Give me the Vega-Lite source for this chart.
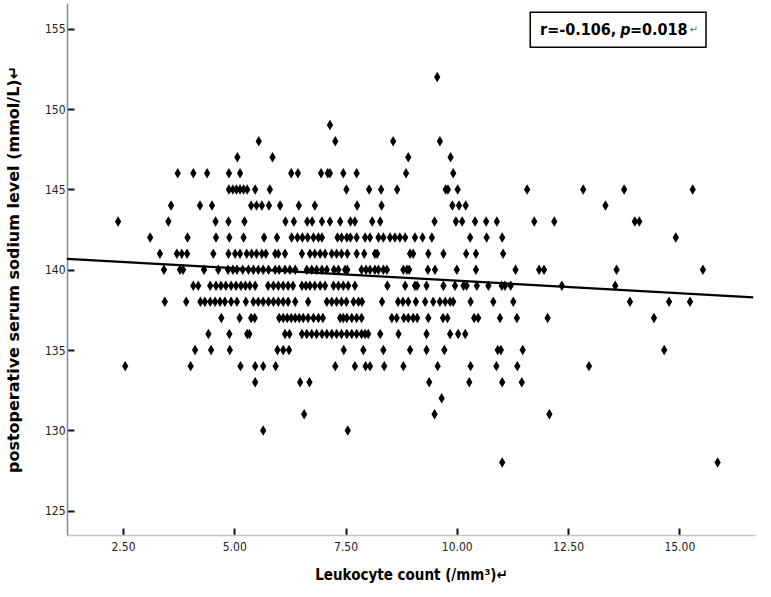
{
  "$schema": "https://vega.github.io/schema/vega-lite/v6.json",
  "width": 688,
  "height": 532,
  "autosize": {"type": "none"},
  "padding": {"left": 67, "top": 3, "right": 16, "bottom": 62},
  "background": "white",
  "config": {
    "view": {"stroke": null},
    "axis": {
      "grid": false,
      "domainColor": "#8a8a8a",
      "domainWidth": 1.5,
      "tickColor": "#111",
      "tickWidth": 2,
      "tickSize": -7,
      "labelPadding": 9,
      "labelFont": "Liberation Sans Narrow, Arial Narrow, DejaVu Sans Condensed, sans-serif",
      "labelFontSize": 12,
      "labelColor": "#222",
      "titleFontWeight": "bold",
      "titleColor": "#000"
    }
  },
  "datasets": {
    "pts": [
      {"x":9.56,"y":152},{"x":7.15,"y":149},
      {"x":5.55,"y":148},{"x":7.27,"y":148},{"x":8.57,"y":148},{"x":9.62,"y":148},
      {"x":5.07,"y":147},{"x":5.86,"y":147},{"x":8.91,"y":147},{"x":9.86,"y":147},
      {"x":3.73,"y":146},{"x":4.08,"y":146},{"x":4.39,"y":146},{"x":4.88,"y":146},{"x":5.13,"y":146},{"x":6.28,"y":146},{"x":6.43,"y":146},{"x":6.95,"y":146},{"x":7.10,"y":146},{"x":7.15,"y":146},{"x":7.45,"y":146},{"x":7.75,"y":146},{"x":8.86,"y":146},{"x":9.92,"y":146},
      {"x":4.88,"y":145},{"x":4.97,"y":145},{"x":5.05,"y":145},{"x":5.13,"y":145},{"x":5.21,"y":145},{"x":5.29,"y":145},{"x":5.47,"y":145},{"x":5.80,"y":145},{"x":7.52,"y":145},{"x":8.03,"y":145},{"x":8.30,"y":145},{"x":8.66,"y":145},{"x":9.75,"y":145},{"x":9.80,"y":145},{"x":10.02,"y":145},{"x":11.58,"y":145},{"x":12.84,"y":145},{"x":13.76,"y":145},{"x":15.30,"y":145},
      {"x":3.58,"y":144},{"x":4.23,"y":144},{"x":4.50,"y":144},{"x":5.38,"y":144},{"x":5.50,"y":144},{"x":5.62,"y":144},{"x":5.78,"y":144},{"x":6.03,"y":144},{"x":6.45,"y":144},{"x":6.81,"y":144},{"x":7.76,"y":144},{"x":8.31,"y":144},{"x":9.90,"y":144},{"x":10.05,"y":144},{"x":10.20,"y":144},{"x":13.34,"y":144},
      {"x":2.39,"y":143},{"x":3.52,"y":143},{"x":4.58,"y":143},{"x":4.87,"y":143},{"x":5.23,"y":143},{"x":6.15,"y":143},{"x":6.34,"y":143},{"x":6.64,"y":143},{"x":6.75,"y":143},{"x":6.97,"y":143},{"x":7.15,"y":143},{"x":7.38,"y":143},{"x":7.61,"y":143},{"x":7.71,"y":143},{"x":8.10,"y":143},{"x":8.28,"y":143},{"x":9.50,"y":143},{"x":9.98,"y":143},{"x":10.12,"y":143},{"x":10.41,"y":143},{"x":10.66,"y":143},{"x":10.90,"y":143},{"x":11.74,"y":143},{"x":12.19,"y":143},{"x":14.00,"y":143},{"x":14.10,"y":143},
      {"x":3.11,"y":142},{"x":3.95,"y":142},{"x":4.59,"y":142},{"x":4.89,"y":142},{"x":5.21,"y":142},{"x":5.67,"y":142},{"x":5.96,"y":142},{"x":6.29,"y":142},{"x":6.42,"y":142},{"x":6.53,"y":142},{"x":6.65,"y":142},{"x":6.78,"y":142},{"x":6.89,"y":142},{"x":6.97,"y":142},{"x":7.32,"y":142},{"x":7.41,"y":142},{"x":7.53,"y":142},{"x":7.61,"y":142},{"x":7.75,"y":142},{"x":7.94,"y":142},{"x":8.05,"y":142},{"x":8.24,"y":142},{"x":8.35,"y":142},{"x":8.50,"y":142},{"x":8.61,"y":142},{"x":8.72,"y":142},{"x":8.84,"y":142},{"x":9.06,"y":142},{"x":9.23,"y":142},{"x":9.44,"y":142},{"x":10.30,"y":142},{"x":10.67,"y":142},{"x":11.02,"y":142},{"x":14.92,"y":142},
      {"x":3.33,"y":141},{"x":3.71,"y":141},{"x":3.82,"y":141},{"x":3.94,"y":141},{"x":4.53,"y":141},{"x":4.87,"y":141},{"x":5.02,"y":141},{"x":5.13,"y":141},{"x":5.28,"y":141},{"x":5.39,"y":141},{"x":5.50,"y":141},{"x":5.62,"y":141},{"x":5.71,"y":141},{"x":5.92,"y":141},{"x":5.99,"y":141},{"x":6.14,"y":141},{"x":6.52,"y":141},{"x":6.70,"y":141},{"x":6.81,"y":141},{"x":6.93,"y":141},{"x":7.04,"y":141},{"x":7.19,"y":141},{"x":7.30,"y":141},{"x":7.41,"y":141},{"x":7.54,"y":141},{"x":7.75,"y":141},{"x":7.92,"y":141},{"x":8.16,"y":141},{"x":8.21,"y":141},{"x":8.95,"y":141},{"x":9.02,"y":141},{"x":9.36,"y":141},{"x":9.70,"y":141},{"x":10.21,"y":141},{"x":10.43,"y":141},{"x":11.04,"y":141},
      {"x":3.42,"y":140},{"x":3.78,"y":140},{"x":3.85,"y":140},{"x":4.32,"y":140},{"x":4.64,"y":140},{"x":4.86,"y":140},{"x":4.97,"y":140},{"x":5.06,"y":140},{"x":5.19,"y":140},{"x":5.32,"y":140},{"x":5.43,"y":140},{"x":5.54,"y":140},{"x":5.65,"y":140},{"x":5.77,"y":140},{"x":5.92,"y":140},{"x":6.01,"y":140},{"x":6.14,"y":140},{"x":6.25,"y":140},{"x":6.37,"y":140},{"x":6.63,"y":140},{"x":6.74,"y":140},{"x":6.85,"y":140},{"x":6.97,"y":140},{"x":7.08,"y":140},{"x":7.24,"y":140},{"x":7.34,"y":140},{"x":7.49,"y":140},{"x":7.54,"y":140},{"x":7.86,"y":140},{"x":7.96,"y":140},{"x":8.05,"y":140},{"x":8.16,"y":140},{"x":8.24,"y":140},{"x":8.35,"y":140},{"x":8.43,"y":140},{"x":8.80,"y":140},{"x":8.88,"y":140},{"x":8.93,"y":140},{"x":9.35,"y":140},{"x":9.51,"y":140},{"x":10.00,"y":140},{"x":10.43,"y":140},{"x":11.32,"y":140},{"x":11.85,"y":140},{"x":11.96,"y":140},{"x":13.59,"y":140},{"x":15.53,"y":140},
      {"x":4.08,"y":139},{"x":4.19,"y":139},{"x":4.46,"y":139},{"x":4.59,"y":139},{"x":4.70,"y":139},{"x":4.81,"y":139},{"x":4.93,"y":139},{"x":5.04,"y":139},{"x":5.15,"y":139},{"x":5.25,"y":139},{"x":5.35,"y":139},{"x":5.47,"y":139},{"x":5.76,"y":139},{"x":5.88,"y":139},{"x":5.99,"y":139},{"x":6.10,"y":139},{"x":6.21,"y":139},{"x":6.32,"y":139},{"x":6.52,"y":139},{"x":6.61,"y":139},{"x":6.70,"y":139},{"x":6.81,"y":139},{"x":6.93,"y":139},{"x":7.04,"y":139},{"x":7.23,"y":139},{"x":7.34,"y":139},{"x":7.45,"y":139},{"x":7.56,"y":139},{"x":7.71,"y":139},{"x":8.44,"y":139},{"x":8.84,"y":139},{"x":9.06,"y":139},{"x":9.11,"y":139},{"x":9.32,"y":139},{"x":9.70,"y":139},{"x":9.96,"y":139},{"x":10.15,"y":139},{"x":10.22,"y":139},{"x":10.45,"y":139},{"x":10.71,"y":139},{"x":11.01,"y":139},{"x":11.08,"y":139},{"x":11.21,"y":139},{"x":12.36,"y":139},{"x":13.56,"y":139},
      {"x":3.44,"y":138},{"x":3.92,"y":138},{"x":4.24,"y":138},{"x":4.34,"y":138},{"x":4.46,"y":138},{"x":4.57,"y":138},{"x":4.68,"y":138},{"x":4.79,"y":138},{"x":4.93,"y":138},{"x":5.06,"y":138},{"x":5.26,"y":138},{"x":5.43,"y":138},{"x":5.54,"y":138},{"x":5.65,"y":138},{"x":5.77,"y":138},{"x":5.88,"y":138},{"x":5.99,"y":138},{"x":6.10,"y":138},{"x":6.21,"y":138},{"x":6.37,"y":138},{"x":6.66,"y":138},{"x":7.08,"y":138},{"x":7.19,"y":138},{"x":7.30,"y":138},{"x":7.41,"y":138},{"x":7.52,"y":138},{"x":7.68,"y":138},{"x":7.79,"y":138},{"x":7.87,"y":138},{"x":8.32,"y":138},{"x":8.68,"y":138},{"x":8.79,"y":138},{"x":8.91,"y":138},{"x":9.08,"y":138},{"x":9.29,"y":138},{"x":9.47,"y":138},{"x":9.62,"y":138},{"x":9.74,"y":138},{"x":9.85,"y":138},{"x":9.92,"y":138},{"x":10.31,"y":138},{"x":10.82,"y":138},{"x":11.27,"y":138},{"x":13.89,"y":138},{"x":14.77,"y":138},{"x":15.24,"y":138},
      {"x":4.71,"y":137},{"x":5.12,"y":137},{"x":5.38,"y":137},{"x":5.46,"y":137},{"x":6.01,"y":137},{"x":6.10,"y":137},{"x":6.19,"y":137},{"x":6.28,"y":137},{"x":6.37,"y":137},{"x":6.46,"y":137},{"x":6.55,"y":137},{"x":6.66,"y":137},{"x":6.78,"y":137},{"x":6.89,"y":137},{"x":6.99,"y":137},{"x":7.38,"y":137},{"x":7.45,"y":137},{"x":7.53,"y":137},{"x":7.64,"y":137},{"x":7.75,"y":137},{"x":7.86,"y":137},{"x":8.54,"y":137},{"x":8.65,"y":137},{"x":8.81,"y":137},{"x":8.91,"y":137},{"x":9.02,"y":137},{"x":9.11,"y":137},{"x":9.36,"y":137},{"x":9.69,"y":137},{"x":9.79,"y":137},{"x":10.39,"y":137},{"x":10.48,"y":137},{"x":10.97,"y":137},{"x":11.35,"y":137},{"x":12.04,"y":137},{"x":14.43,"y":137},
      {"x":4.42,"y":136},{"x":4.89,"y":136},{"x":5.29,"y":136},{"x":5.34,"y":136},{"x":6.14,"y":136},{"x":6.24,"y":136},{"x":6.52,"y":136},{"x":6.63,"y":136},{"x":6.74,"y":136},{"x":6.85,"y":136},{"x":6.97,"y":136},{"x":7.08,"y":136},{"x":7.19,"y":136},{"x":7.30,"y":136},{"x":7.41,"y":136},{"x":7.53,"y":136},{"x":7.64,"y":136},{"x":7.75,"y":136},{"x":7.86,"y":136},{"x":7.94,"y":136},{"x":8.01,"y":136},{"x":8.28,"y":136},{"x":8.69,"y":136},{"x":9.32,"y":136},{"x":9.85,"y":136},{"x":10.03,"y":136},{"x":10.19,"y":136},
      {"x":4.12,"y":135},{"x":4.48,"y":135},{"x":4.90,"y":135},{"x":5.97,"y":135},{"x":6.10,"y":135},{"x":6.23,"y":135},{"x":7.46,"y":135},{"x":7.90,"y":135},{"x":8.35,"y":135},{"x":8.95,"y":135},{"x":9.32,"y":135},{"x":9.72,"y":135},{"x":10.92,"y":135},{"x":10.99,"y":135},{"x":11.48,"y":135},{"x":14.66,"y":135},
      {"x":2.55,"y":134},{"x":4.02,"y":134},{"x":5.14,"y":134},{"x":5.47,"y":134},{"x":5.65,"y":134},{"x":5.93,"y":134},{"x":7.27,"y":134},{"x":7.71,"y":134},{"x":7.95,"y":134},{"x":8.05,"y":134},{"x":8.37,"y":134},{"x":8.80,"y":134},{"x":9.57,"y":134},{"x":10.31,"y":134},{"x":10.89,"y":134},{"x":11.36,"y":134},{"x":12.97,"y":134},
      {"x":5.47,"y":133},{"x":6.48,"y":133},{"x":6.69,"y":133},{"x":9.38,"y":133},{"x":10.28,"y":133},{"x":11.02,"y":133},{"x":11.46,"y":133},
      {"x":9.66,"y":132},
      {"x":6.57,"y":131},{"x":9.50,"y":131},{"x":12.08,"y":131},
      {"x":5.65,"y":130},{"x":7.55,"y":130},
      {"x":11.02,"y":128},{"x":15.86,"y":128}
    ],
    "fit": [{"x": 1.242, "y": 140.68}, {"x": 16.66, "y": 138.28}],
    "box": [{"x": 11.65, "x2": 15.6, "y": 156.03, "y2": 153.85}],
    "note": [
      {"x": 11.87, "y": 154.9, "t": "r=-0.106,"},
      {"x": 13.67, "y": 154.9, "t": "p"},
      {"x": 13.89, "y": 154.9, "t": "=0.018"},
      {"x": 15.23, "y": 154.9, "t": "↵"}
    ]
  },
  "layer": [
    {
      "data": {"name": "pts"},
      "mark": {"type": "point", "shape": "M0,-1L0.6,0L0,1L-0.6,0Z", "filled": true, "color": "#000", "size": 110, "opacity": 1, "strokeWidth": 0},
      "encoding": {
        "x": {
          "field": "x", "type": "quantitative",
          "scale": {"domain": [1.242, 16.70], "nice": false, "zero": false},
          "axis": {
            "title": "Leukocyte count (/mm³)↵",
            "values": [2.5, 5, 7.5, 10, 12.5, 15],
            "format": ".2f",
            "labelPadding": 13,
            "titlePadding": 15,
            "titleFont": "Liberation Sans Narrow, Arial Narrow, DejaVu Sans Condensed, sans-serif",
            "titleFontSize": 15,
            "domainColor": "#c4c4c4"
          }
        },
        "y": {
          "field": "y", "type": "quantitative",
          "scale": {"domain": [123.49, 156.6], "nice": false, "zero": false},
          "axis": {
            "title": "postoperative serum sodium level (mmol/L)↵",
            "values": [125, 130, 135, 140, 145, 150, 155],
            "titlePadding": 23,
            "titleFont": "DejaVu Sans",
            "titleFontSize": 16
          }
        }
      }
    },
    {
      "data": {"name": "fit"},
      "mark": {"type": "line", "color": "#000", "strokeWidth": 2.2},
      "encoding": {
        "x": {"field": "x", "type": "quantitative"},
        "y": {"field": "y", "type": "quantitative"}
      }
    },
    {
      "data": {"name": "box"},
      "mark": {"type": "rect", "fill": "white", "stroke": "#000", "strokeWidth": 1.5},
      "encoding": {
        "x": {"field": "x", "type": "quantitative"},
        "x2": {"field": "x2"},
        "y": {"field": "y", "type": "quantitative"},
        "y2": {"field": "y2"}
      }
    },
    {
      "data": {"name": "note"},
      "transform": [{"filter": "datum.t != 'p' && datum.t != '↵'"}],
      "mark": {"type": "text", "align": "left", "baseline": "middle", "font": "Liberation Sans Narrow, Arial Narrow, DejaVu Sans Condensed, sans-serif", "fontSize": 16, "fontWeight": "bold", "color": "#000"},
      "encoding": {
        "x": {"field": "x", "type": "quantitative"},
        "y": {"field": "y", "type": "quantitative"},
        "text": {"field": "t"}
      }
    },
    {
      "data": {"name": "note"},
      "transform": [{"filter": "datum.t == 'p'"}],
      "mark": {"type": "text", "align": "left", "baseline": "middle", "font": "Liberation Sans Narrow, Arial Narrow, DejaVu Sans Condensed, sans-serif", "fontSize": 16, "fontWeight": "bold", "fontStyle": "italic", "color": "#000"},
      "encoding": {
        "x": {"field": "x", "type": "quantitative"},
        "y": {"field": "y", "type": "quantitative"},
        "text": {"field": "t"}
      }
    },
    {
      "data": {"name": "note"},
      "transform": [{"filter": "datum.t == '↵'"}],
      "mark": {"type": "text", "align": "left", "baseline": "middle", "font": "DejaVu Sans", "fontSize": 10, "color": "#666"},
      "encoding": {
        "x": {"field": "x", "type": "quantitative"},
        "y": {"field": "y", "type": "quantitative"},
        "text": {"field": "t"}
      }
    }
  ]
}
